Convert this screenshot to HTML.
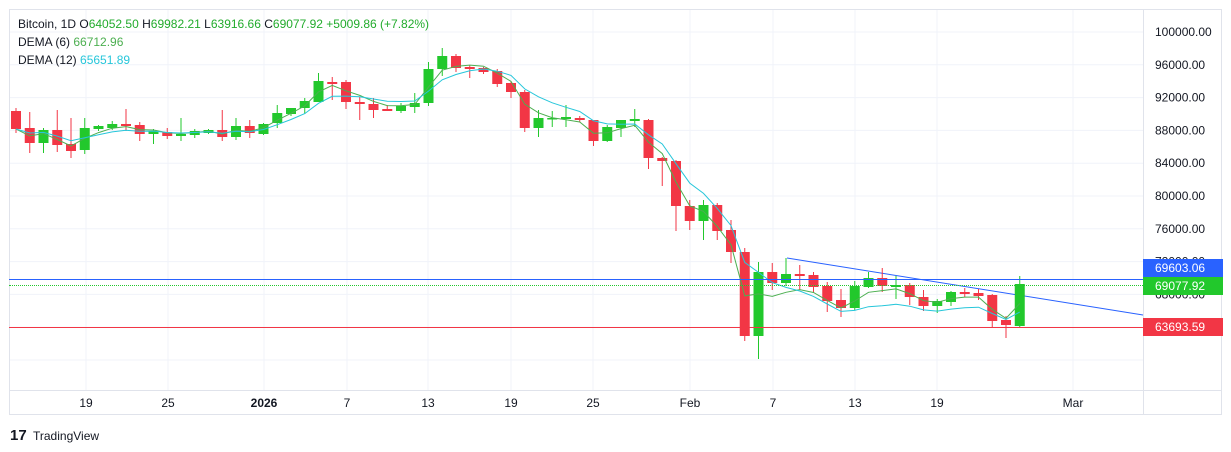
<!DOCTYPE html>
<html><head><meta charset="utf-8"><style>
body{margin:0;background:#fff;width:1231px;height:452px;overflow:hidden;font-family:"Liberation Sans",sans-serif;position:relative}
.hl{position:absolute;left:9px;width:1134px;height:0}
</style></head><body>
<svg id="s" width="1231" height="452" xmlns="http://www.w3.org/2000/svg" font-family="Liberation Sans, sans-serif" style="position:absolute;left:0;top:0"></svg>
<div class="hl" style="top:279px;border-top:1px solid #2962ff"></div>
<div class="hl" style="top:285px;border-top:1px dotted #22c82c"></div>
<div class="hl" style="top:327px;border-top:1px solid #f23645"></div>
<script>
const d=[[111,129,108,133,0],[128,143,112,153,0],[130,143,128,153,1],[130,145,110,152,0],[144,151,118,158,0],[128,150,118,154,1],[126,129,125,131,1],[124,128,121,130,1],[124,126,109,131,0],[125,134,122,141,0],[131,134,129,144,1],[132,136,128,139,0],[134,136,118,141,1],[131,135,129,138,1],[130,133,129,134,1],[130,137,110,141,0],[126,137,118,140,1],[126,133,120,138,0],[124,134,123,135,1],[113,123,105,128,1],[108,114,108,116,1],[101,108,98,114,1],[81,102,73,102,1],[82,84,77,100,0],[82,102,80,109,0],[102,104,97,120,0],[104,110,98,118,0],[109,111,105,111,0],[106,111,103,113,1],[103,107,93,113,1],[69,103,62,106,1],[56,69,48,76,1],[56,68,54,72,0],[67,69,65,78,0],[68,72,67,74,0],[71,84,69,87,0],[83,92,82,98,0],[92,128,90,132,0],[118,128,110,137,1],[118,119,111,127,1],[117,119,105,127,1],[118,120,116,122,0],[120,141,120,146,0],[127,141,125,142,1],[120,128,120,137,1],[119,121,109,127,1],[120,158,119,169,0],[158,161,157,186,0],[161,206,160,231,0],[206,221,200,230,0],[205,221,200,240,1],[205,231,203,240,0],[230,252,220,263,0],[252,336,248,341,0],[272,336,262,359,1],[272,283,263,290,0],[274,283,258,286,1],[274,276,265,290,0],[275,287,272,293,0],[286,301,282,312,0],[300,308,289,317,0],[286,308,281,310,1],[278,287,272,288,1],[278,286,268,292,0],[285,287,276,299,1],[285,297,283,305,0],[297,306,290,311,0],[301,306,299,313,1],[292,302,291,306,1],[292,294,288,297,0],[293,296,289,300,0],[295,321,294,327,0],[320,325,316,338,0],[284,326,276,327,1]];
let h='';
const G='#f0f3fa';
for(let i=0;i<11;i++){const y=32+i*32.8;h+=`<line x1="9" x2="1143" y1="${y}" y2="${y}" stroke="${G}"/>`}
const tl=[[86,'19'],[168,'25'],[264,'2026',1],[347,'7'],[428,'13'],[511,'19'],[593,'25'],[690,'Feb'],[773,'7'],[855,'13'],[937,'19'],[1073,'Mar']];
tl.forEach(t=>{h+=`<line x1="${t[0]}" x2="${t[0]}" y1="9" y2="390" stroke="${G}"/><text x="${t[0]}" y="407" font-size="12" text-anchor="middle" fill="#131722" ${t[2]?'font-weight="bold"':''}>${t[1]}</text>`});
h+=`<rect x="9.5" y="9.5" width="1212" height="405" fill="none" stroke="#e0e3eb"/><line x1="1143.5" x2="1143.5" y1="9" y2="415" stroke="#e0e3eb"/><line x1="9" x2="1222" y1="390.5" y2="390.5" stroke="#e0e3eb"/>`;
for(let i=0;i<10;i++){const y=32+i*32.8;h+=`<text x="1155" y="${y+4}" font-size="12" fill="#131722">${(100000-i*4000)}.00</text>`}
h+=`<line x1="787" y1="258" x2="1143" y2="315" style="stroke:#2962ff;stroke-width:1"/>`;
const s=13.75,x0=16;let cl=[];
d.forEach((c,i)=>{const x=x0+i*s,col=c[4]?'#22c82c':'#f23645';h+=`<line x1="${x}" x2="${x}" y1="${c[2]}" y2="${c[3]}" stroke="${col}"/><rect x="${x-5}" y="${c[0]}" width="10" height="${Math.max(1.5,c[1]-c[0])}" fill="${col}"/>`;cl.push(c[4]?c[0]:c[1])});
function ema(a,n){const k=2/(n+1);let r=[a[0]];for(let i=1;i<a.length;i++)r.push(a[i]*k+r[i-1]*(1-k));return r}
function dema(a,n){const e=ema(a,n),ee=ema(e,n);return e.map((v,i)=>2*v-ee[i])}
[[6,'#4caf50'],[12,'#26c6da']].forEach(([n,c])=>{const v=dema(cl,n);h+=`<polyline fill="none" stroke="${c}" stroke-width="1" points="${v.map((y,i)=>(x0+i*s)+','+y.toFixed(1)).join(' ')}"/>`});
h+=`<rect x="1143" y="259" width="80" height="18" fill="#2962ff"/><text x="1155" y="272" font-size="12" fill="#fff">69603.06</text>`;
h+=`<rect x="1143" y="277" width="80" height="18" fill="#22c82c"/><text x="1155" y="290" font-size="12" fill="#fff">69077.92</text>`;
h+=`<rect x="1143" y="318" width="80" height="18" fill="#f23645"/><text x="1155" y="331" font-size="12" fill="#fff">63693.59</text>`;
h+=`<text x="18" y="28" font-size="12" fill="#131722">Bitcoin, 1D <tspan>O</tspan><tspan fill="#22ab2c">64052.50</tspan> H<tspan fill="#22ab2c">69982.21</tspan> L<tspan fill="#22ab2c">63916.66</tspan> C<tspan fill="#22ab2c">69077.92 +5009.86 (+7.82%)</tspan></text>`;
h+=`<text x="18" y="46" font-size="12" fill="#131722">DEMA (6) <tspan fill="#4caf50">66712.96</tspan></text><text x="18" y="64" font-size="12" fill="#131722">DEMA (12) <tspan fill="#26c6da">65651.89</tspan></text>`;
h+=`<text x="10" y="440" font-size="15" font-weight="bold" fill="#131722">17</text><text x="33" y="440" font-size="12" fill="#131722">TradingView</text>`;
document.getElementById('s').innerHTML=h;
</script></body></html>
